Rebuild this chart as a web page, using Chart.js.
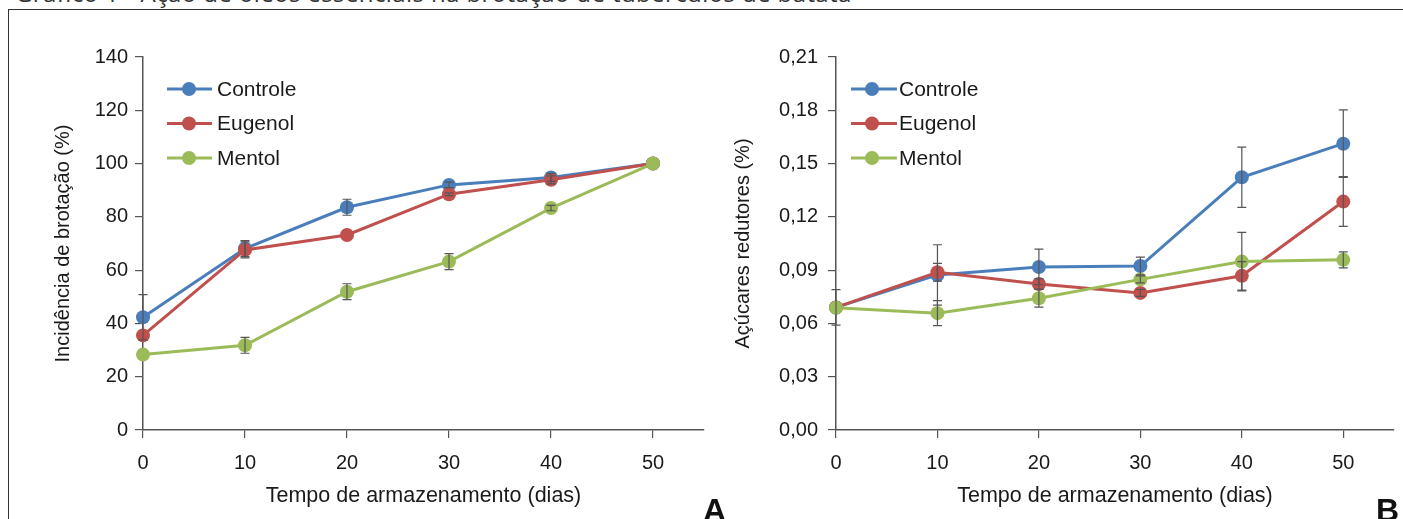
<!DOCTYPE html>
<html><head><meta charset="utf-8">
<script src="https://cdn.jsdelivr.net/npm/chart.js@4"></script>
<style>
html,body{margin:0;padding:0;width:1403px;height:519px;overflow:hidden;background:#fff;}
#frame{position:absolute;left:8px;top:9px;width:1500px;height:600px;border-left:1.5px solid #333;border-top:1.5px solid #333;box-sizing:border-box;}
#title{position:absolute;left:15px;top:-24px;font-family:"Open Sans";font-size:24px;letter-spacing:0.4px;color:#333;white-space:nowrap;}
canvas{position:absolute;top:0;}
#ca{left:0;} #cb{left:720px;}
.lbl{position:absolute;font-family:"Liberation Sans";font-weight:bold;font-size:32px;line-height:1;color:#111;}
</style></head>
<body>
<div id="title">Gráfico 1 - Ação de óleos essenciais na brotação de tubérculos de batata</div>
<div id="frame"></div>
<canvas id="ca" width="720" height="519"></canvas>
<canvas id="cb" width="683" height="519"></canvas>
<div class="lbl" style="left:703px;top:494px;">A</div>
<div class="lbl" style="left:1376px;top:494px;">B</div>
<script>
// ---- data ----
const xValues = [0, 10, 20, 30, 40, 50];
const xTickLabels = ['0', '10', '20', '30', '40', '50'];
const seriesNames = ['Controle', 'Eugenol', 'Mentol'];

// Chart A: incidência de brotação (%)
const brotControle = [42.3, 68.1, 83.6, 92.0, 94.8, 100];
const brotEugenol  = [35.5, 67.6, 73.2, 88.5, 93.9, 100];
const brotMentol   = [28.3, 31.8, 51.9, 63.2, 83.3, 100];
const brotErrControle = [8.5, 3, 3, 1, 1.5, 0];
const brotErrEugenol  = [0, 3, 0, 0.5, 1.5, 0];
const brotErrMentol   = [0, 3, 3, 3, 1, 0];
const brotYTicks = [0, 20, 40, 60, 80, 100, 120, 140];
const brotYTickLabels = ['0', '20', '40', '60', '80', '100', '120', '140'];

// Chart B: açúcares redutores (%)
const acuControle = [0.0690, 0.0873, 0.0918, 0.0923, 0.1423, 0.1612];
const acuEugenol  = [0.0690, 0.0888, 0.0822, 0.0772, 0.0868, 0.1286];
const acuMentol   = [0.0688, 0.0658, 0.0742, 0.0848, 0.0948, 0.0958];
const acuErrControle = [0.010, 0.017, 0.010, 0.005, 0.017, 0.019];
const acuErrEugenol  = [0, 0.005, 0.003, 0.002, 0.008, 0.014];
const acuErrMentol   = [0, 0.007, 0.005, 0.002, 0.0165, 0.0045];
const acuYTicks = [0, 0.03, 0.06, 0.09, 0.12, 0.15, 0.18, 0.21];
const acuYTickLabels = ['0,00', '0,03', '0,06', '0,09', '0,12', '0,15', '0,18', '0,21'];

// ---- styling ----
const colors = ['#4A7EBB', '#C0504D', '#9BBB59'];
const axisColor = '#555';
const textColor = '#1a1a1a';
const FONT = '"Liberation Sans", Arial, sans-serif';

const errorBarPlugin = {
  id: 'errorBars',
  afterDatasetsDraw(chart, args, opts) {
    const ctx = chart.ctx, ys = chart.scales.y;
    ctx.save();
    ctx.strokeStyle = '#555';
    ctx.lineWidth = 1.2;
    chart.data.datasets.forEach((ds, i) => {
      const meta = chart.getDatasetMeta(i);
      const errs = opts.errors[i];
      meta.data.forEach((pt, j) => {
        const e = errs[j];
        if (!e) return;
        const v = ds.data[j].y;
        const yt = ys.getPixelForValue(v + e), yb = ys.getPixelForValue(v - e);
        const x = pt.x, c = 4.5;
        ctx.beginPath();
        ctx.moveTo(x, yt); ctx.lineTo(x, yb);
        ctx.moveTo(x - c, yt); ctx.lineTo(x + c, yt);
        ctx.moveTo(x - c, yb); ctx.lineTo(x + c, yb);
        ctx.stroke();
      });
    });
    ctx.restore();
  }
};

const legendPlugin = {
  id: 'lineLegend',
  afterDraw(chart, args, o) {
    const ctx = chart.ctx;
    ctx.save();
    chart.data.datasets.forEach((ds, i) => {
      const y = o.y0 + i * o.dy;
      ctx.strokeStyle = ds.borderColor;
      ctx.lineWidth = 3;
      ctx.beginPath(); ctx.moveTo(o.x1, y); ctx.lineTo(o.x2, y); ctx.stroke();
      ctx.fillStyle = ds.backgroundColor;
      ctx.beginPath(); ctx.arc(o.xm, y, 7, 0, Math.PI * 2); ctx.fill();
      ctx.fillStyle = textColor;
      ctx.font = '21px ' + FONT;
      ctx.textBaseline = 'middle';
      ctx.textAlign = 'left';
      ctx.fillText(ds.label, o.xt, y + 1);
    });
    ctx.restore();
  }
};

function makeDatasets(series) {
  return series.map((vals, i) => ({
    label: seriesNames[i],
    data: xValues.map((x, j) => ({ x: x, y: vals[j] })),
    borderColor: colors[i],
    backgroundColor: colors[i],
    borderWidth: 3,
    pointRadius: 7,
    pointHoverRadius: 7,
    pointBorderWidth: 0,
    tension: 0,
    clip: false,
    order: 3 - i
  }));
}

function makeChart(id, series, errors, yMax, yTicks, yTickLabels, yTitle, yWidth, yTitlePad, yLabelPad, padRight, legendPos) {
  return new Chart(document.getElementById(id), {
    type: 'line',
    data: { datasets: makeDatasets(series) },
    plugins: [errorBarPlugin, legendPlugin],
    options: {
      responsive: false,
      animation: false,
      devicePixelRatio: 1,
      layout: { padding: { left: 0, top: 57, right: padRight, bottom: 0 } },
      plugins: {
        legend: { display: false },
        tooltip: { enabled: false },
        errorBars: { errors: errors },
        lineLegend: legendPos
      },
      scales: {
        x: {
          type: 'linear', min: 0, max: 55,
          afterBuildTicks: s => { s.ticks = xValues.map(v => ({ value: v })); },
          afterFit: s => { s.height = 89; },
          ticks: {
            font: { family: FONT, size: 20 }, color: textColor, padding: 13,
            maxRotation: 0,
            callback: (v) => xTickLabels[xValues.indexOf(v)]
          },
          grid: { drawOnChartArea: false, drawTicks: true, tickLength: 8, color: axisColor, lineWidth: 1.2 },
          border: { color: axisColor, width: 1.5 },
          title: { display: true, text: 'Tempo de armazenamento (dias)', font: { family: FONT, size: 21.5 }, color: textColor, padding: { top: 0, bottom: 10 } }
        },
        y: {
          type: 'linear', min: 0, max: yMax,
          afterBuildTicks: s => { s.ticks = yTicks.map(v => ({ value: v })); },
          afterFit: s => { s.width = yWidth; },
          ticks: {
            font: { family: FONT, size: 20 }, color: textColor, padding: yLabelPad,
            callback: (v) => { const k = yTicks.findIndex(t => Math.abs(t - v) < 1e-9); return k >= 0 ? yTickLabels[k] : ''; }
          },
          grid: { drawOnChartArea: false, drawTicks: true, tickLength: 8, color: axisColor, lineWidth: 1.2 },
          border: { color: axisColor, width: 1.5 },
          title: { display: true, text: yTitle, font: { family: FONT, size: 20 }, color: textColor, padding: { top: yTitlePad, bottom: 0 } }
        }
      }
    }
  });
}

makeChart('ca', [brotControle, brotEugenol, brotMentol], [brotErrControle, brotErrEugenol, brotErrMentol],
  140, brotYTicks, brotYTickLabels, 'Incidência de brotação (%)', 143, 51, 7, 16,
  { x1: 167, x2: 212, xm: 189, xt: 217, y0: 89, dy: 34.5 });

makeChart('cb', [acuControle, acuEugenol, acuMentol], [acuErrControle, acuErrEugenol, acuErrMentol],
  0.21, acuYTicks, acuYTickLabels, 'Açúcares redutores (%)', 116, 11, 10, 9,
  { x1: 131, x2: 177, xm: 152, xt: 179, y0: 89, dy: 34.5 });
</script>
</body></html>
